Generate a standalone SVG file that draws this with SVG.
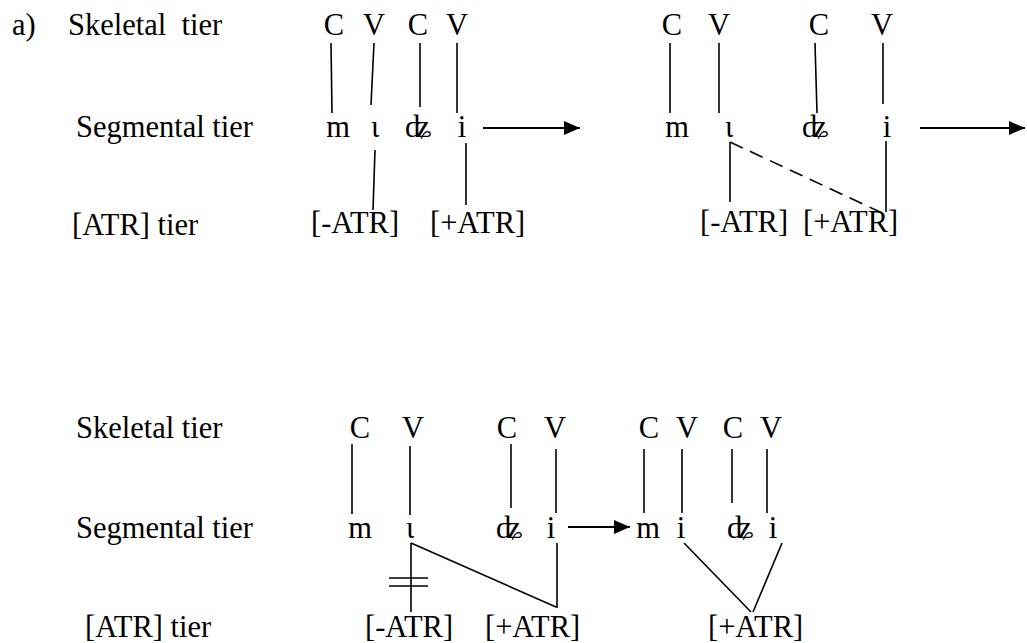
<svg xmlns="http://www.w3.org/2000/svg" width="1027" height="643" viewBox="0 0 1027 643">
  <style>
    text { font-family: "Liberation Serif", "Times New Roman", "DejaVu Serif", serif; font-size: 30.5px; fill: #000; }
    .c { text-anchor: middle; }
    .ln { stroke: #000; stroke-width: 1.6; fill: none; }
    .dash { stroke-dasharray: 14 8; }
    .arr { stroke: #000; stroke-width: 2.2; fill: none; marker-end: url(#head); }
  </style>
  <defs>
    <marker id="head" markerUnits="userSpaceOnUse" markerWidth="16" markerHeight="14" refX="16" refY="7" orient="auto">
      <path d="M0,0 L16,7 L0,14 z" fill="#000"/>
    </marker>
  </defs>
  <rect width="1027" height="643" fill="#fff"/>

  <g font-family="Liberation Serif, Times New Roman, DejaVu Serif, serif">
  <!-- tier labels -->
  <g id="label-a"><text x="12" y="35">a)</text></g>
  <g id="label-skeletal-1"><text x="68" y="35" xml:space="preserve">Skeletal  tier</text></g>
  <g id="label-segmental-1"><text x="76" y="137">Segmental tier</text></g>
  <g id="label-atr-1"><text x="72" y="235">[ATR] tier</text></g>
  <g id="label-skeletal-2"><text x="76" y="438">Skeletal tier</text></g>
  <g id="label-segmental-2"><text x="76" y="538">Segmental tier</text></g>
  <g id="label-atr-2"><text x="85" y="637">[ATR] tier</text></g>

  <!-- step 1: underlying form -->
  <g id="s1-skeleton">
    <text class="c" x="334" y="35">C</text>
    <text class="c" x="374" y="35">V</text>
    <text class="c" x="418" y="35">C</text>
    <text class="c" x="457" y="35">V</text>
  </g>
  <g id="s1-segments">
    <text class="c" x="338" y="137">m</text>
    <text class="c" x="375" y="137">ι</text>
    <text class="c" x="418" y="137">ʥ</text>
    <text class="c" x="462" y="137">i</text>
  </g>
  <g id="s1-minus-atr"><text x="311" y="233">[-ATR]</text></g>
  <g id="s1-plus-atr"><text x="430" y="233">[+ATR]</text></g>

  <!-- step 2: spreading -->
  <g id="s2-skeleton">
    <text class="c" x="672" y="35">C</text>
    <text class="c" x="719" y="35">V</text>
    <text class="c" x="819" y="35">C</text>
    <text class="c" x="882" y="35">V</text>
  </g>
  <g id="s2-segments">
    <text class="c" x="677" y="137">m</text>
    <text class="c" x="729" y="137">ι</text>
    <text class="c" x="815" y="137">ʥ</text>
    <text class="c" x="887" y="137">i</text>
  </g>
  <g id="s2-minus-atr"><text x="700" y="232">[-ATR]</text></g>
  <g id="s2-plus-atr"><text x="803" y="232">[+ATR]</text></g>

  <!-- step 3: delinking -->
  <g id="s3-skeleton">
    <text class="c" x="360" y="438">C</text>
    <text class="c" x="413" y="438">V</text>
    <text class="c" x="507" y="438">C</text>
    <text class="c" x="555" y="438">V</text>
  </g>
  <g id="s3-segments">
    <text class="c" x="360" y="538">m</text>
    <text class="c" x="410" y="538">ι</text>
    <text class="c" x="509" y="538">ʥ</text>
    <text class="c" x="551" y="538">i</text>
  </g>
  <g id="s3-minus-atr"><text x="365" y="637">[-ATR]</text></g>
  <g id="s3-plus-atr"><text x="485" y="637">[+ATR]</text></g>

  <!-- step 4: surface form -->
  <g id="s4-skeleton">
    <text class="c" x="649" y="438">C</text>
    <text class="c" x="687" y="438">V</text>
    <text class="c" x="733" y="438">C</text>
    <text class="c" x="771" y="438">V</text>
  </g>
  <g id="s4-segments">
    <text class="c" x="648" y="538">m</text>
    <text class="c" x="681" y="538">i</text>
    <text class="c" x="740" y="538">ʥ</text>
    <text class="c" x="773" y="538">i</text>
  </g>
  <g id="s4-plus-atr"><text x="708" y="637">[+ATR]</text></g>
  </g>

  <!-- association lines and arrows -->
  <g id="connectors">
    <!-- step 1 -->
    <line class="ln" x1="331" y1="43" x2="332" y2="113"/>
    <line class="ln" x1="374" y1="43" x2="371" y2="105"/>
    <line class="ln" x1="420" y1="43" x2="420" y2="107"/>
    <line class="ln" x1="457" y1="43" x2="457" y2="113"/>
    <line class="ln" x1="375" y1="150" x2="373" y2="210"/>
    <line class="ln" x1="466" y1="143" x2="466" y2="205"/>
    <line class="arr" x1="483" y1="128" x2="580" y2="128"/>

    <!-- step 2 -->
    <line class="ln" x1="670" y1="43" x2="670" y2="113"/>
    <line class="ln" x1="719" y1="43" x2="719" y2="113"/>
    <line class="ln" x1="815" y1="43" x2="817" y2="113"/>
    <line class="ln" x1="883" y1="43" x2="883" y2="104"/>
    <line class="ln" x1="730" y1="142" x2="730" y2="202"/>
    <line class="ln dash" x1="730" y1="142" x2="880" y2="212"/>
    <line class="ln" x1="886" y1="141" x2="886" y2="212"/>
    <line class="arr" x1="920" y1="128" x2="1025" y2="128"/>

    <!-- step 3 -->
    <line class="ln" x1="352" y1="444" x2="352" y2="514"/>
    <line class="ln" x1="410" y1="446" x2="410" y2="515"/>
    <line class="ln" x1="511" y1="444" x2="511" y2="508"/>
    <line class="ln" x1="556" y1="449" x2="556" y2="513"/>
    <line class="ln" x1="411" y1="543" x2="411" y2="612"/>
    <line class="ln" x1="411" y1="543" x2="556" y2="607"/>
    <line class="ln" x1="557" y1="543" x2="557" y2="608"/>
    <line class="ln" x1="389" y1="578" x2="428" y2="578"/>
    <line class="ln" x1="389" y1="586" x2="428" y2="586"/>
    <line class="arr" x1="568" y1="527" x2="630" y2="527"/>

    <!-- step 4 -->
    <line class="ln" x1="644" y1="449" x2="644" y2="513"/>
    <line class="ln" x1="682" y1="449" x2="682" y2="513"/>
    <line class="ln" x1="732" y1="449" x2="732" y2="503"/>
    <line class="ln" x1="767" y1="449" x2="767" y2="513"/>
    <line class="ln" x1="684" y1="543" x2="751" y2="612"/>
    <line class="ln" x1="782" y1="543" x2="753" y2="612"/>
  </g>
</svg>
